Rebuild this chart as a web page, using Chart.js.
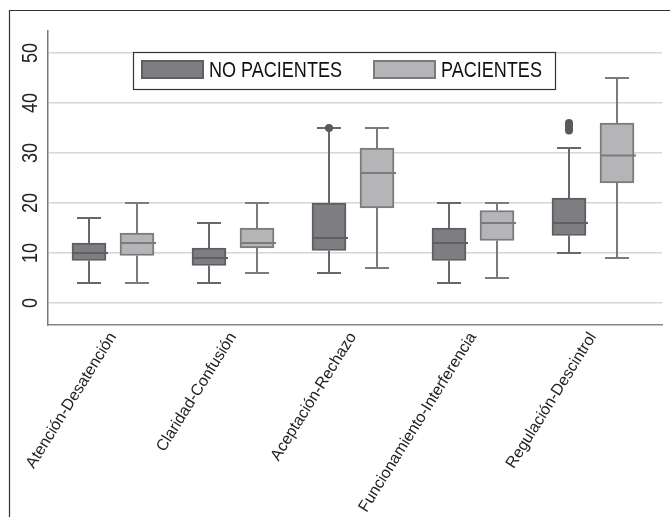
<!DOCTYPE html>
<html>
<head>
<meta charset="utf-8">
<script src="https://cdn.jsdelivr.net/npm/chart.js@4.4.0/dist/chart.umd.min.js"></script>
<style>
body { margin: 0; background: #fff; }
canvas { display: block; }
</style>
</head>
<body>
<canvas id="boxes" width="670" height="517"></canvas>
<script>
const categories = ['Atención-Desatención', 'Claridad-Confusión', 'Aceptación-Rechazo', 'Funcionamiento-Interferencia', 'Regulación-Descintrol'];
const seriesNames = ['NO PACIENTES', 'PACIENTES'];

// five-number summaries
const noPacMin = [4, 4, 6, 4, 10];
const noPacQ1 = [8.5, 7.5, 10.5, 8.5, 13.5];
const noPacMedian = [10, 9, 13, 12, 16];
const noPacQ3 = [12, 11, 20, 15, 21];
const noPacMax = [17, 16, 35, 20, 31];
const noPacOutliers = [[], [], [35], [], [34.5, 35, 35.5, 36]];

const pacMin = [4, 6, 7, 5, 9];
const pacQ1 = [9.5, 11, 19, 12.5, 24];
const pacMedian = [12, 12, 26, 16, 29.5];
const pacQ3 = [14, 15, 31, 18.5, 36];
const pacMax = [20, 20, 35, 20, 45];
const pacOutliers = [[], [], [], [], []];

const yTicks = [0, 10, 20, 30, 40, 50];

const FONT = '"Liberation Sans", Arial, sans-serif';
const groups = [
    { shift: -0.2, min: noPacMin, q1: noPacQ1, med: noPacMedian, q3: noPacQ3, max: noPacMax, out: noPacOutliers,
      fill: '#7e7e82', border: '#5f5f63', line: '#68686b' },
    { shift: 0.2, min: pacMin, q1: pacQ1, med: pacMedian, q3: pacQ3, max: pacMax, out: pacOutliers,
      fill: '#b5b5b8', border: '#7b7b7e', line: '#7b7b7e' }
];

function boxData(g) {
    return categories.map((c, i) => ({ x: i + g.shift, y: [g.q1[i], g.q3[i]] }));
}
function outlierData() {
    let pts = [];
    groups.forEach(g => {
        g.out.forEach((vals, i) => {
            vals.forEach(v => pts.push({ x: i + g.shift, y: v }));
        });
    });
    return pts;
}
// narrow text: the original uses a condensed face
function narrowText(ctx, text, x, y, angle, align) {
    ctx.save();
    ctx.translate(x, y);
    ctx.rotate(angle);
    ctx.scale(0.82, 1);
    ctx.textAlign = align;
    ctx.fillText(text, 0, 0);
    ctx.restore();
}

const frame = {
    id: 'frame',
    beforeDraw(chart) {
        const ctx = chart.ctx;
        ctx.save();
        ctx.fillStyle = '#fff';
        ctx.fillRect(0, 0, chart.width, chart.height);
        ctx.strokeStyle = '#333';
        ctx.lineWidth = 1.2;
        ctx.beginPath();
        ctx.moveTo(9.5, chart.height);
        ctx.lineTo(9.5, 10.5);
        ctx.lineTo(chart.width, 10.5);
        ctx.stroke();
        ctx.restore();
    }
};

// whiskers, caps and medians, drawn before the outlier dots
const whiskers = {
    id: 'whiskers',
    beforeDatasetDraw(chart, args) {
        if (args.meta.type !== 'scatter') return;
        const ctx = chart.ctx, x = chart.scales.x, y = chart.scales.y;
        ctx.save();
        ctx.lineWidth = 2;
        groups.forEach(g => {
            categories.forEach((c, i) => {
                const cx = x.getPixelForValue(i + g.shift);
                ctx.strokeStyle = g.line;
                ctx.beginPath();
                ctx.moveTo(cx, y.getPixelForValue(g.q3[i]));
                ctx.lineTo(cx, y.getPixelForValue(g.max[i]));
                ctx.moveTo(cx, y.getPixelForValue(g.q1[i]));
                ctx.lineTo(cx, y.getPixelForValue(g.min[i]));
                ctx.moveTo(cx - 12, y.getPixelForValue(g.max[i]));
                ctx.lineTo(cx + 12, y.getPixelForValue(g.max[i]));
                ctx.moveTo(cx - 12, y.getPixelForValue(g.min[i]));
                ctx.lineTo(cx + 12, y.getPixelForValue(g.min[i]));
                ctx.stroke();
                ctx.strokeStyle = g.border;
                ctx.beginPath();
                ctx.moveTo(cx - 16, y.getPixelForValue(g.med[i]));
                ctx.lineTo(cx + 19, y.getPixelForValue(g.med[i]));
                ctx.stroke();
            });
        });
        ctx.restore();
    }
};

const yLabels = {
    id: 'yLabels',
    afterDraw(chart) {
        const ctx = chart.ctx, y = chart.scales.y;
        ctx.save();
        ctx.font = '22px ' + FONT;
        ctx.fillStyle = '#222';
        ctx.textBaseline = 'alphabetic';
        yTicks.forEach(v => {
            narrowText(ctx, String(v), 37, y.getPixelForValue(v), -Math.PI / 2, 'center');
        });
        ctx.restore();
    }
};

const boxLegend = {
    id: 'boxLegend',
    afterDraw(chart) {
        const ctx = chart.ctx;
        const sets = chart.data.datasets.filter(d => d.type === 'bar');
        const swatchX = [141, 373];
        ctx.save();
        ctx.fillStyle = '#fff';
        ctx.fillRect(133, 52, 422, 37);
        ctx.strokeStyle = '#333';
        ctx.lineWidth = 1.2;
        ctx.strokeRect(133.5, 52.5, 422, 37);
        ctx.font = '22px ' + FONT;
        ctx.textBaseline = 'alphabetic';
        sets.forEach((d, k) => {
            ctx.fillStyle = d.backgroundColor;
            ctx.fillRect(swatchX[k], 60, 63, 19);
            ctx.strokeStyle = d.borderColor;
            ctx.lineWidth = 2;
            ctx.strokeRect(swatchX[k] + 1, 61, 61, 17);
            ctx.fillStyle = '#111';
            narrowText(ctx, d.label, swatchX[k] + 68, 77, 0, 'left');
        });
        ctx.restore();
    }
};

new Chart(document.getElementById('boxes'), {
    type: 'bar',
    data: {
        datasets: [
            {
                type: 'bar',
                label: seriesNames[0],
                data: boxData(groups[0]),
                backgroundColor: groups[0].fill,
                borderColor: groups[0].border,
                borderWidth: 2,
                borderSkipped: false,
                barThickness: 34,
                grouped: false,
                order: 1
            },
            {
                type: 'bar',
                label: seriesNames[1],
                data: boxData(groups[1]),
                backgroundColor: groups[1].fill,
                borderColor: groups[1].border,
                borderWidth: 2,
                borderSkipped: false,
                barThickness: 34,
                grouped: false,
                order: 1
            },
            {
                type: 'scatter',
                label: 'outliers',
                data: outlierData(),
                backgroundColor: '#5a5a5e',
                borderColor: '#5a5a5e',
                pointRadius: 4,
                pointBorderWidth: 0,
                order: 0
            }
        ]
    },
    options: {
        responsive: false,
        animation: false,
        layout: { padding: { left: 0, top: 31, right: 8, bottom: 0 } },
        plugins: {
            legend: { display: false },
            tooltip: { enabled: false }
        },
        scales: {
            x: {
                type: 'linear',
                offset: false,
                min: -0.5417,
                max: 4.575,
                afterBuildTicks: s => { s.ticks = categories.map((c, i) => ({ value: i })); },
                afterFit: s => { s.height = 192; },
                grid: { display: false, drawTicks: false, offset: false },
                border: { display: true, color: '#858585', width: 1.5 },
                ticks: {
                    autoSkip: false,
                    minRotation: 58,
                    maxRotation: 58,
                    padding: 4,
                    color: '#222',
                    font: { family: FONT, size: 16 },
                    callback: v => categories[v]
                }
            },
            y: {
                type: 'linear',
                min: -4.4,
                max: 54.4,
                afterBuildTicks: s => { s.ticks = yTicks.map(v => ({ value: v })); },
                afterFit: s => { s.width = 48; },
                grid: { color: '#d6d6d6', lineWidth: 1.5, drawTicks: false },
                border: { display: true, color: '#7a7a7a', width: 1.5 },
                ticks: { display: false }
            }
        }
    },
    plugins: [frame, whiskers, yLabels, boxLegend]
});
</script>
</body>
</html>
